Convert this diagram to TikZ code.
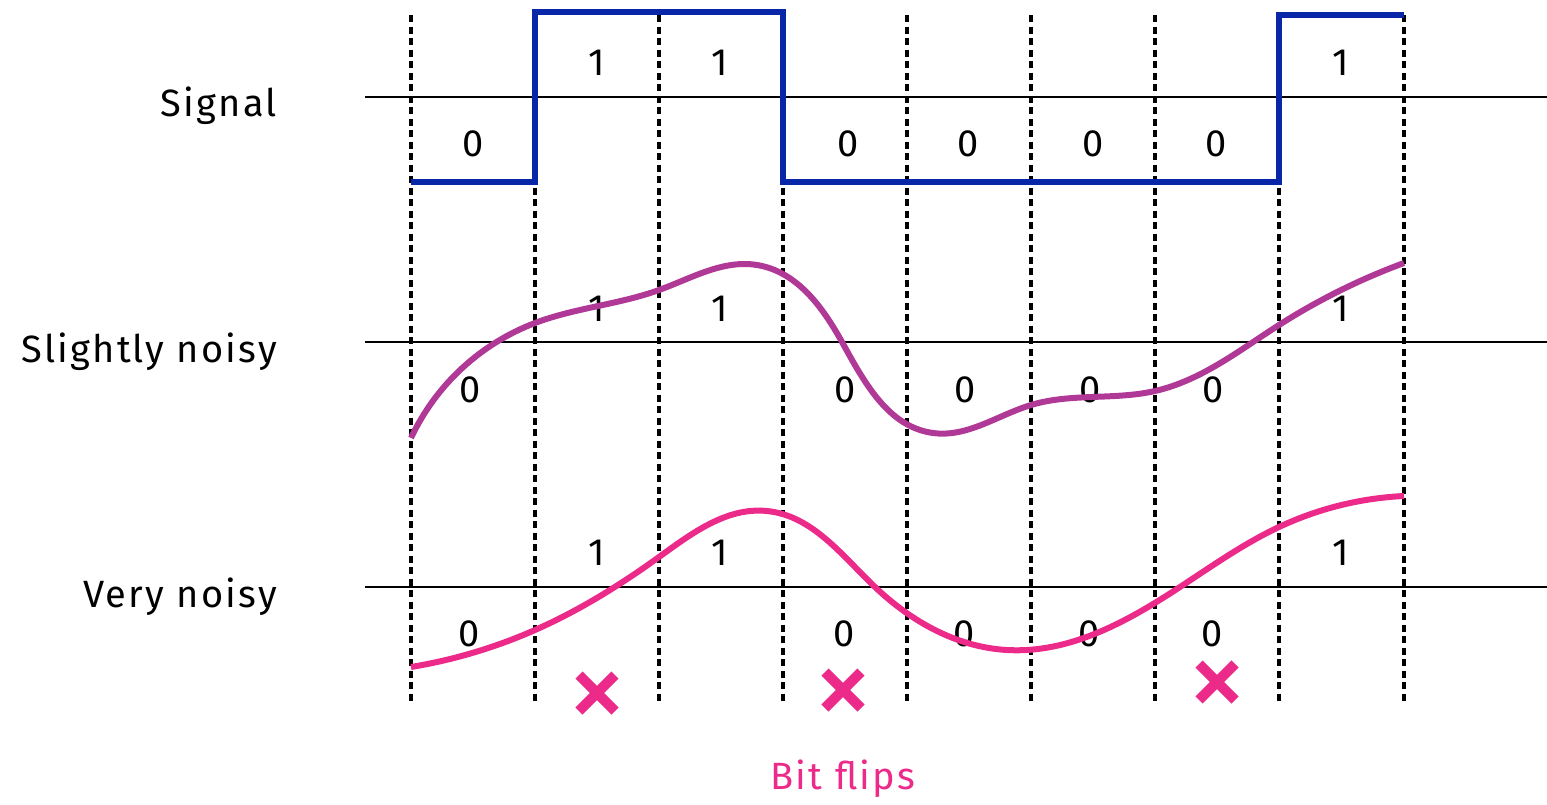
\documentclass[tikz,border=0pt]{standalone}
\usepackage{fontspec}
\setmainfont{Fira Sans}[LetterSpace=6]
\usetikzlibrary{hobby}
\definecolor{sigblue}{RGB}{8,38,168}
\definecolor{slight}{RGB}{176,56,150}
\definecolor{noisy}{RGB}{236,42,138}
\begin{document}
\begin{tikzpicture}[x=1pt,y=-1pt,
  every node/.style={font=\fontsize{38}{42}\selectfont, inner sep=0pt},
  axis/.style={line width=2.6pt, black},
  grid/.style={line width=3.2pt, black, dash pattern=on 7pt off 4.5pt},
  sig/.style={line width=5.5pt, sigblue, line join=miter},
  curve/.style={line width=6pt},
  rowlabel/.style={anchor=base east},
  bit/.style={anchor=center},
  cross/.style={line width=10pt, noisy}]
\useasboundingbox (0,0) rectangle (1547,804);
% vertical dashed lines
\foreach \x [count=\i] in {411,535,659,783,907,1031,1155,1279,1404}{
  \coordinate (t\i) at (\x,15);
  \coordinate (b\i) at (\x,705);
  \draw[grid] (t\i) -- (b\i);
}
% axes
\coordinate (a1l) at (365,97);  \coordinate (a1r) at (1547,97);
\coordinate (a2l) at (365,342); \coordinate (a2r) at (1547,342);
\coordinate (a3l) at (365,587); \coordinate (a3r) at (1547,587);
\draw[axis] (a1l) -- (a1r);
\draw[axis] (a2l) -- (a2r);
\draw[axis] (a3l) -- (a3r);
% row labels
\node[rowlabel] (l1) at (277,116) {Signal};
\node[rowlabel] (l2) at (277,362) {Slightly noisy};
\node[rowlabel] (l3) at (277,607) {Very noisy};
% signal
\draw[sig] (411,182) -- (535,182) -- (535,12) -- (783,12) -- (783,182) -- (1279,182) -- (1279,15) -- (1404,15);
% bits
\foreach \x/\b in {473/0,597/1,720/1,848/0,968/0,1093/0,1216/0,1341/1}{
  \ifnum\b=0
    \node[bit] at (\x,144) {0};
    \node[bit] at (\x-3,390) {0};
    \node[bit] at (\x-4,634) {0};
  \else
    \node[bit] at (\x,63) {1};
    \node[bit] at (\x,309) {1};
    \node[bit] at (\x,553) {1};
  \fi
}
% slightly noisy curve
\draw[curve, slight, use Hobby shortcut] (411,438) .. (535,323) .. (659,290) .. (757,265) .. (842,342) .. (933,433) .. (1031,405) .. (1155,391) .. (1279,325) .. (1404,263);
% very noisy curve
\draw[curve, noisy, use Hobby shortcut] (411,667) .. (535,630) .. (659,557) .. (767,511) .. (875,587) .. (1007,650) .. (1180,587) .. (1279,527) .. (1404,496);
% crosses
\foreach \cx/\cy [count=\k] in {597/693,843/690,1217/682}{
  \draw[cross] (\cx-18,\cy-18) -- (\cx+18,\cy+18);
  \draw[cross] (\cx-18,\cy+18) -- (\cx+18,\cy-18);
}
\node[text=noisy] (bf) at (843,779) {Bit flips};
\end{tikzpicture}
\end{document}
